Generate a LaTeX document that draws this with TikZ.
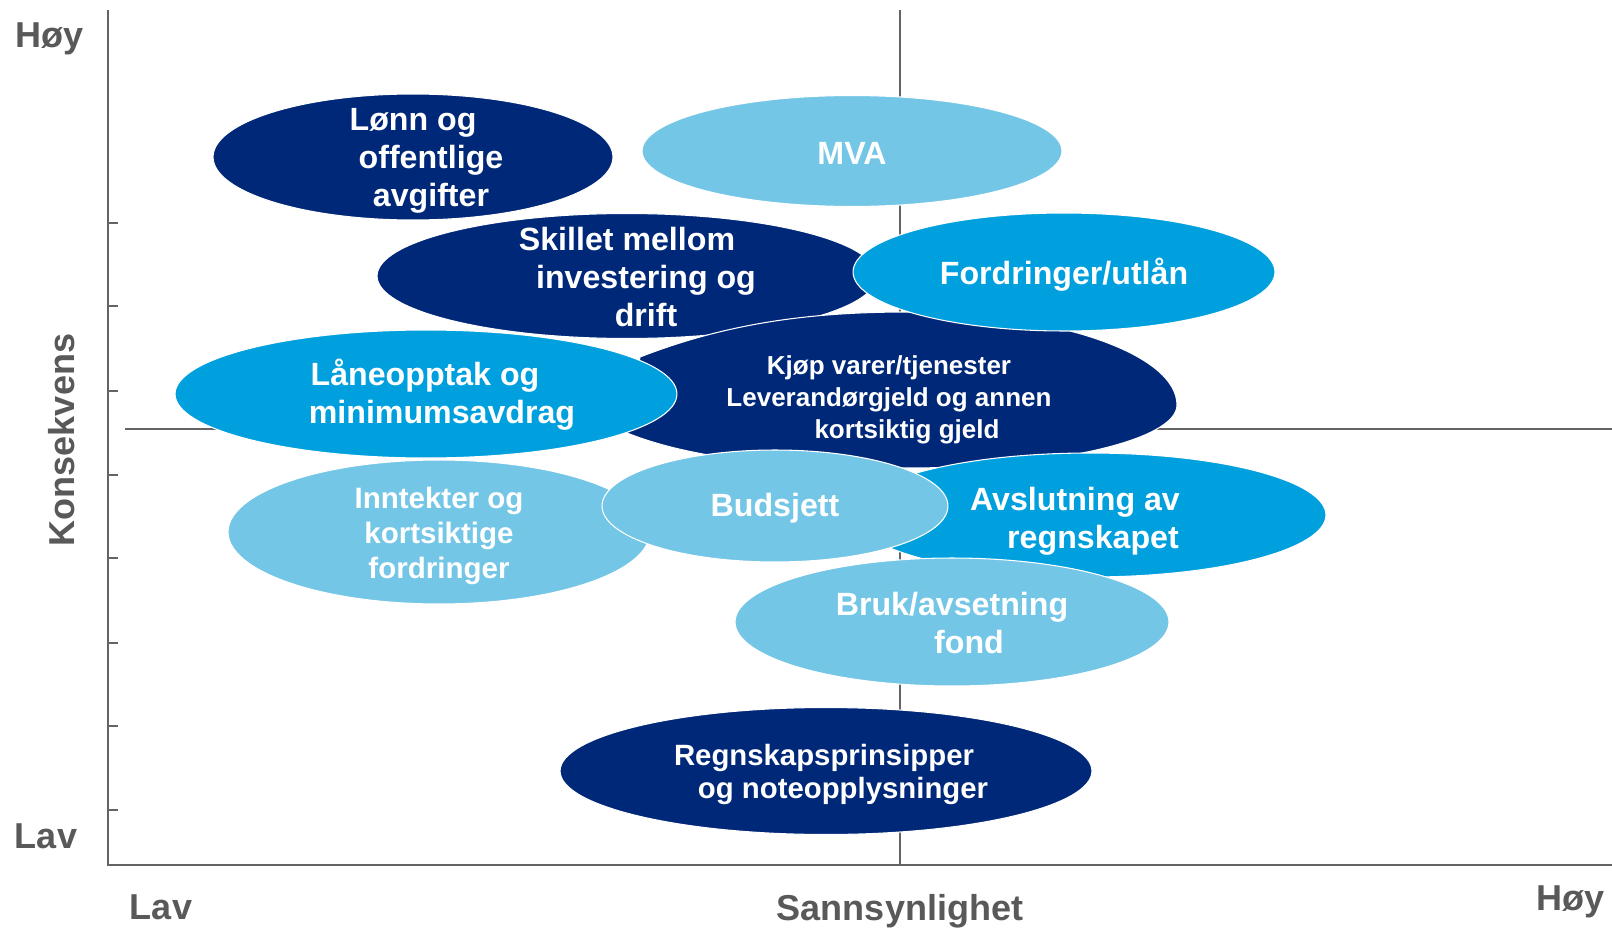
\documentclass[tikz,border=0pt]{standalone}
\usepackage{fontspec}
\setmainfont{Liberation Sans}
\usetikzlibrary{shapes.geometric}
\definecolor{navy}{RGB}{0,40,120}
\definecolor{midblue}{RGB}{0,160,222}
\definecolor{lightblue}{RGB}{116,198,230}
\definecolor{axisgray}{RGB}{100,100,100}
\definecolor{labelgray}{RGB}{89,89,89}

\begin{document}
\begin{tikzpicture}[x=0.02cm,y=-0.02cm]
        \tikzstyle{blob}=[ellipse, draw=white, line width=0.6pt, inner sep=0pt]
        \tikzstyle{blobtext}=[text=white, align=center, inner sep=0pt, font=\fontsize{18.3}{21.6}\selectfont\bfseries]
        \tikzstyle{axislabel}=[text=labelgray, inner sep=0pt, font=\fontsize{20.5}{24}\selectfont\bfseries]
        \tikzstyle{axisline}=[draw=axisgray, line width=1.3pt]

        \useasboundingbox (0,0) rectangle (1612,929);

        % axes and quadrant lines
        \coordinate (origin) at (108,865);
        \coordinate (ytop) at (108,10);
        \coordinate (xend) at (1612,865);
        \coordinate (midtop) at (900,10);
        \coordinate (midbot) at (900,865);
        \coordinate (midleft) at (125,429);
        \coordinate (midright) at (1612,429);
        \draw[axisline, line width=1pt] (midtop) -- (midbot);
        \draw[axisline, line width=1pt] (midleft) -- (midright);
        \draw[axisline] (ytop) -- (origin) -- (xend);
        \foreach \y in {223,306,391,475,558,643,726,810}
            \draw[axisline, line width=1pt] (108,\y) -- (118,\y);

        \node[axislabel] (yhigh) at (50,39) {Høy};
        \node[axislabel] (ylow) at (46,836) {Lav};
        \node[axislabel, rotate=90] (ytitle) at (62,440) {Konsekvens};
        \node[axislabel] (xlow) at (161,907) {Lav};
        \node[axislabel] (xtitle) at (900,911) {Sannsynlighet};
        \node[axislabel] (xhigh) at (1570,902) {Høy};

        % risk areas, back to front
        \node[blob, fill=navy, minimum width=8cm, minimum height=2.52cm] (lonn) at (413,157) {};
        \node[blobtext] at (431,161) {Lønn og\hspace*{7.2mm}\\offentlige\\avgifter};

        \node[blob, fill=lightblue, minimum width=8.4cm, minimum height=2.22cm] (mva) at (852,151) {};
        \node[blobtext] at (852,153) {MVA};

        \node[blob, fill=navy, minimum width=10cm, minimum height=2.5cm] (skillet) at (627,276) {};
        \node[blobtext] at (646,277) {Skillet mellom\hspace*{7.6mm}\\investering og\\drift};

        \fill[navy, draw=white, line width=0.6pt] (640,357)
            .. controls (720,326) and (800,312) .. (907,312)
            .. controls (1056,312) and (1177,354) .. (1177,405)
            .. controls (1177,440) and (1056,468) .. (907,468)
            .. controls (800,468) and (700,462) .. (627,433) -- cycle;
        \node[blobtext, font=\fontsize{14.8}{18.2}\selectfont\bfseries] (kjop) at (889,400) {Kjøp varer/tjenester\\Leverandørgjeld og annen\\\hspace*{7.2mm}kortsiktig gjeld};

        \node[blob, fill=midblue, minimum width=8.44cm, minimum height=2.36cm] (fordr) at (1064,272) {};
        \node[blobtext] at (1064,275) {Fordringer/utlån};

        \node[blob, fill=midblue, minimum width=10.04cm, minimum height=2.56cm] (lane) at (426,394) {};
        \node[blobtext] at (442,395) {Låneopptak og\hspace*{6.8mm}\\minimumsavdrag};

        \node[blob, fill=midblue, minimum width=9.44cm, minimum height=2.48cm] (avslut) at (1090,515) {};
        \node[blobtext] at (1093,521) {Avslutning av\hspace*{7.2mm}\\regnskapet};

        \node[blob, fill=lightblue, minimum width=8.44cm, minimum height=2.88cm] (inntekt) at (439,532) {};
        \node[blobtext, font=\fontsize{16.8}{19.9}\selectfont\bfseries] at (439,536) {Inntekter og\\kortsiktige\\fordringer};

        \node[blob, fill=lightblue, minimum width=6.92cm, minimum height=2.24cm] (budsj) at (775,506) {};
        \node[blobtext] at (775,508) {Budsjett};

        \node[blob, fill=lightblue, minimum width=8.68cm, minimum height=2.56cm] (bruk) at (952,622) {};
        \node[blobtext] at (969,623) {Bruk/avsetning\hspace*{6.8mm}\\fond};

        \node[blob, fill=navy, minimum width=10.64cm, minimum height=2.54cm] (regn) at (826,771) {};
        \node[blobtext, font=\fontsize{16.7}{18.8}\selectfont\bfseries] at (843,774) {Regnskapsprinsipper\hspace*{7.6mm}\\og noteopplysninger};
\end{tikzpicture}
\end{document}
